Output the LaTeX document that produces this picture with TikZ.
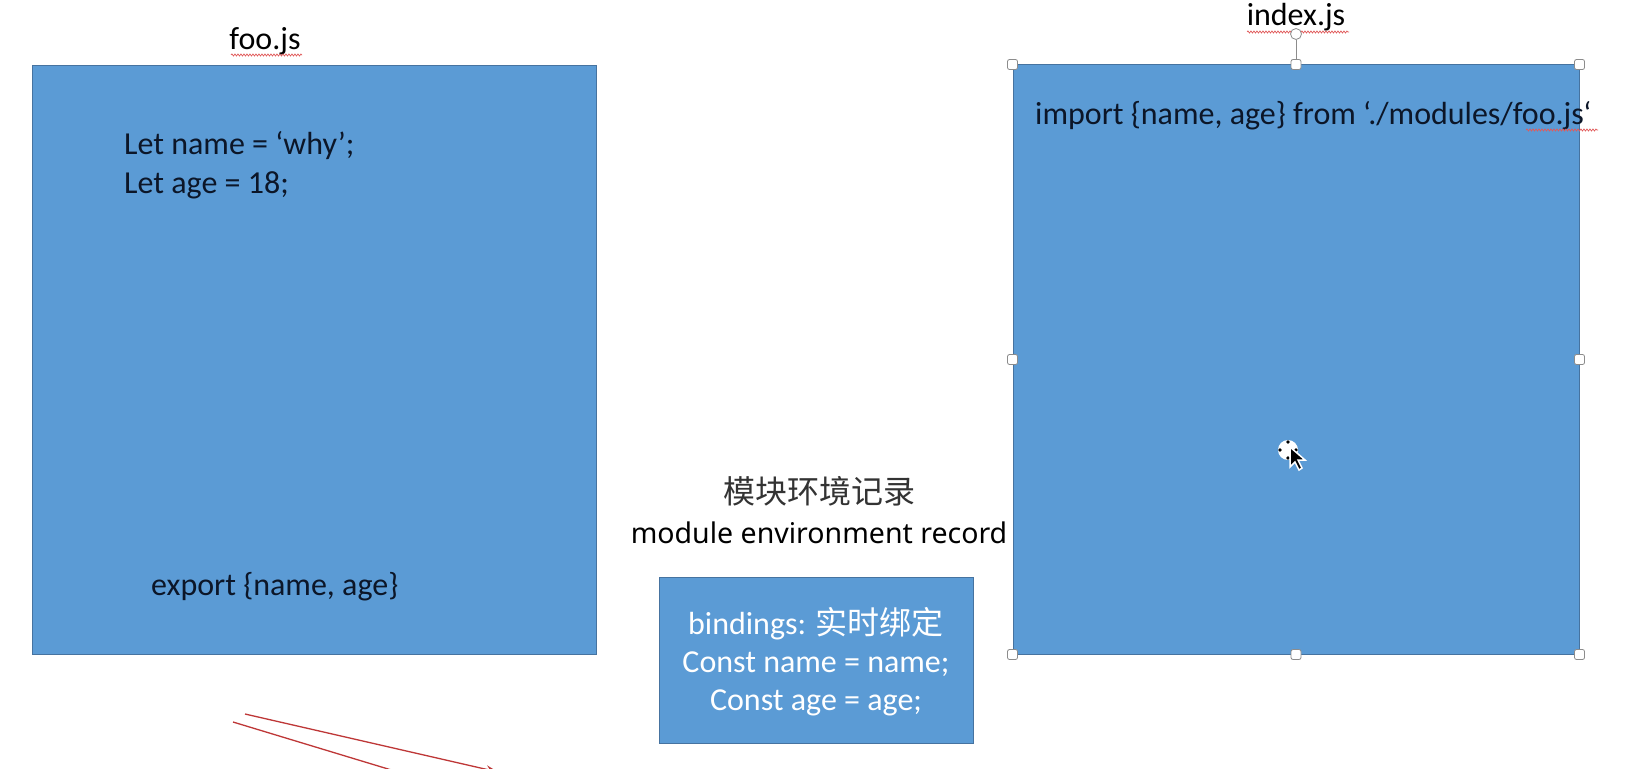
\documentclass[tikz,border=0pt]{standalone}
\usepackage{fontspec}
\setmainfont{Carlito}
\newfontfamily\cjk{Noto Sans CJK SC}
\newfontfamily\labf{Noto Sans}
\usetikzlibrary{decorations.pathmorphing,arrows.meta}
\definecolor{boxblue}{RGB}{91,155,213}
\definecolor{boxedge}{RGB}{70,115,160}
\definecolor{txtdark}{RGB}{12,22,40}
\definecolor{redline}{RGB}{190,55,55}
\definecolor{handlegray}{RGB}{140,140,140}
\definecolor{squig}{RGB}{225,90,90}
\begin{document}
\begin{tikzpicture}[x=1pt,y=-1pt,
  blk/.style={draw=boxedge,line width=1pt,fill=boxblue,inner sep=0pt},
  big/.style={font=\fontsize{32}{38}\selectfont,inner sep=0pt},
  code/.style={big,text=txtdark},
  wcode/.style={font=\fontsize{32}{38}\selectfont,inner sep=0pt,text=white},
  hdl/.style={draw=handlegray,fill=white,rounded corners=2pt,minimum size=10pt,inner sep=0pt,line width=0.8pt},
  spell/.style={draw=squig,line width=0.7pt,decorate,decoration={snake,amplitude=1pt,segment length=3pt}},
  redarrow/.style={draw=redline,line width=1.3pt}
]
\useasboundingbox (0,0) rectangle (1632,768);
\clip (0,0) rectangle (1632,768);
\fill[white] (0,0) rectangle (1632,768);

% left box
\node[blk,minimum width=564pt,minimum height=588pt] (foo) at (314,360) {};
\node[big,anchor=base] (footitle) at (265,49) {foo.js};
\draw[spell] (231,55) -- (302,55);
\node[code,anchor=base west] (let1) at (124,154) {Let name = ‘why’;};
\node[code,anchor=base west] (let2) at (124,193) {Let age = 18;};
\node[code,anchor=base west] (exp) at (151,595) {export \{name, age\}};

% right box
\node[blk,minimum width=566pt,minimum height=589pt] (idx) at (1296,359.5) {};
\node[big,anchor=base] (idxtitle) at (1296,26) {index.js};
\draw[spell] (1247,32) -- (1349,32);
\node[code,anchor=base west] (imp) at (1035,124) {import \{name, age\} from ‘./modules/foo.js‘};
\draw[spell] (1526,130) -- (1598,130);

% selection handles
\node[circle,draw=handlegray,fill=white,minimum size=11pt,inner sep=0pt,line width=0.8pt] (rot) at (1296,34) {};
\draw[handlegray,line width=0.8pt] (rot.south) -- (idx.north);
\foreach \a in {north west,north,north east,west,east,south west,south,south east}
  \node[hdl] at (idx.\a) {};

% cursor
\node[circle,fill=white,minimum size=20pt,inner sep=0pt] (cur) at (1288,450) {};
\foreach \d in {(1288,442),(1288,458),(1280,450),(1296,450)}
  \fill[black] \d circle (1.8pt);
\draw[white,line width=1.5pt,fill=black] (1290,447) -- (1290,467) -- (1295,462) -- (1299,470) -- (1302,468) -- (1298,460) -- (1305,460) -- cycle;

% middle
\node[font=\cjk\fontsize{32}{38}\selectfont,anchor=base,inner sep=0pt,text=black!80] (zh) at (819,503) {模块环境记录};
\node[font=\labf\fontsize{28.5}{32}\selectfont,anchor=base,inner sep=0pt,text=black] (en) at (819,543) {module environment record};
\node[blk,minimum width=314pt,minimum height=166pt] (rec) at (816,660) {};
\node[wcode,anchor=base] (b1) at (816,634) {bindings: {\cjk 实时绑定}};
\node[wcode,anchor=base] (b2) at (816,672) {Const name = name;};
\node[wcode,anchor=base] (b3) at (816,710) {Const age = age;};

% red lines
\coordinate (r1s) at (245,714);
\coordinate (r1e) at (498,772);
\coordinate (r2s) at (233,722);
\coordinate (r2e) at (398,772);
\draw[redarrow,-{Stealth[length=12pt,width=8pt]}] (r1s) -- (r1e);
\draw[redarrow] (r2s) -- (r2e);
\end{tikzpicture}
\end{document}
